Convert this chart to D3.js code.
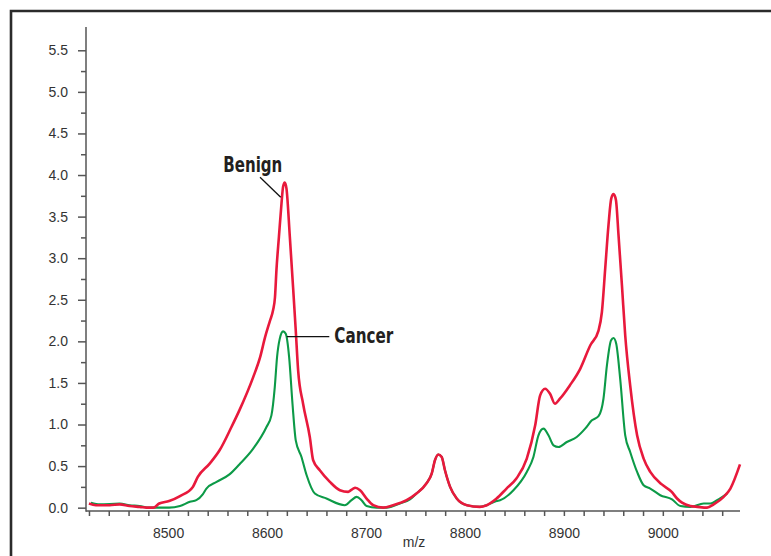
<!DOCTYPE html>
<html><head><meta charset="utf-8">
<script src="https://cdn.jsdelivr.net/npm/d3@7"></script>
<style>
html,body{margin:0;padding:0;background:#fff;}
svg{display:block;}
</style></head>
<body>
<svg id="chart" width="771" height="556"></svg>
<script>
// m/z positions and intensities
const benignMz = [8420,8427,8441,8451,8461,8471,8481,8485,8491,8501,8512,8525,8530,8542,8552,8564,8572,8586,8593,8598,8603,8606,8608,8609.5,8612,8614.6,8616.2,8617.9,8619.6,8623,8626.3,8629,8631.4,8636.4,8643.2,8646.6,8653.3,8663.5,8673.6,8682,8687,8689,8694,8700.6,8707.3,8717.4,8727.5,8741,8751,8761,8766.4,8769.7,8773,8776.5,8779.8,8785,8791.7,8802,8815,8822,8832,8842,8852,8862.5,8871,8876,8881,8886,8891,8896,8906,8916.5,8926.6,8935,8938.4,8941.8,8945.1,8947.9,8950.2,8952.6,8955.2,8958.7,8962,8967,8974,8980.6,8987.3,8999,9009,9014.4,9019.4,9027.8,9035,9044.7,9051.4,9061.5,9068.3,9078];
const benignVal = [0.05,0.03,0.03,0.04,0.02,0.01,0.0,0.0,0.05,0.08,0.14,0.25,0.37,0.53,0.69,0.97,1.17,1.57,1.81,2.05,2.25,2.37,2.53,2.86,3.26,3.66,3.86,3.91,3.84,3.26,2.65,2.13,1.65,1.25,0.85,0.57,0.45,0.31,0.21,0.19,0.23,0.24,0.21,0.11,0.03,0.0,0.03,0.09,0.17,0.29,0.41,0.57,0.64,0.61,0.45,0.25,0.11,0.03,0.01,0.03,0.11,0.23,0.35,0.59,0.99,1.35,1.43,1.37,1.25,1.31,1.47,1.67,1.95,2.13,2.35,2.88,3.40,3.72,3.77,3.70,3.28,2.67,2.07,1.47,0.87,0.59,0.43,0.28,0.19,0.11,0.06,0.02,0.01,0.0,0.04,0.13,0.23,0.52];

const cancerMz = [8422,8431,8451,8461,8471,8481,8491,8501,8512,8522,8528.5,8535,8538.7,8549,8562,8572,8586,8599.4,8604.4,8607.8,8610.1,8612.8,8616.2,8618.9,8622.3,8625.7,8629,8634.8,8640,8648.3,8660,8678.6,8685.4,8690.5,8695.5,8700.6,8710.7,8720.8,8734.3,8744.4,8751,8761,8766.4,8769.7,8773,8776.5,8779.8,8785,8791.7,8802,8815,8822,8832,8835.5,8849,8862.5,8869.2,8874.3,8879.4,8884.4,8889.5,8894.6,8903,8913,8921.5,8928.3,8935,8940,8943.5,8947.6,8950.2,8952.9,8956.9,8962,8967,8974,8980.6,8987.3,8997.4,9009.3,9017.7,9027.8,9041.3,9048,9054.8,9065];
const cancerVal = [0.06,0.04,0.05,0.03,0.02,0.0,0.0,0.0,0.02,0.07,0.09,0.16,0.23,0.31,0.40,0.52,0.71,0.97,1.11,1.45,1.81,2.03,2.12,2.09,1.81,1.25,0.81,0.61,0.39,0.17,0.11,0.03,0.09,0.13,0.09,0.02,0.0,0.0,0.05,0.10,0.17,0.29,0.41,0.57,0.64,0.61,0.45,0.25,0.11,0.03,0.01,0.03,0.08,0.09,0.21,0.43,0.61,0.87,0.95,0.87,0.75,0.73,0.79,0.85,0.95,1.05,1.10,1.31,1.71,2.01,2.04,1.97,1.55,0.87,0.67,0.43,0.27,0.23,0.15,0.10,0.02,0.01,0.05,0.05,0.09,0.17];

const yMajorTicks = [0,0.5,1.0,1.5,2.0,2.5,3.0,3.5,4.0,4.5,5.0,5.5];
const yMinorTicks = [0.25,0.75,1.25,1.75,2.25,2.75,3.25,3.75,4.25,4.75,5.25];
const xTicks = d3.range(8420, 9061, 20);
const xLabelTicks = [8500,8600,8700,8800,8900,9000];
const xAxisTitle = "m/z";

const annLabels = ["Benign","Cancer"];
const annTextPos = [[8555.8,4.033],[8668,1.984]];
const annLineFrom = [[8592.9,3.973],[8619.9,2.056]];
const annLineTo = [[8613.8,3.732],[8662.9,2.056]];

const svg = d3.select("#chart");
const x = d3.scaleLinear().domain([8417, 9078]).range([86, 740]);
const y = d3.scaleLinear().domain([-0.04, 5.78]).range([511, 27]);

// frame
svg.append("path").attr("d","M11,560V11H775").attr("fill","none")
  .attr("stroke","#2b2b2b").attr("stroke-width",2.6);

const font = "'Liberation Sans', Arial, Helvetica, sans-serif";
const axisColor = "#555";

// y axis
const yAx = svg.append("g").attr("transform","translate(86,0)")
  .call(d3.axisLeft(y).tickValues(yMajorTicks).tickSize(8).tickPadding(10).tickFormat(d3.format(".1f")));
const yMin = svg.append("g").attr("transform","translate(86,0)")
  .call(d3.axisLeft(y).tickValues(yMinorTicks).tickSize(5).tickFormat(""));
yMin.select(".domain").remove();

// x axis
const xAx = svg.append("g").attr("transform","translate(0,511)")
  .call(d3.axisBottom(x).tickValues(xTicks).tickSize(5).tickPadding(12)
    .tickFormat(d => xLabelTicks.includes(d) ? String(d) : ""));

[yAx,yMin,xAx].forEach(g=>{
  g.select(".domain").attr("stroke",axisColor).attr("stroke-width",1.5);
  g.selectAll(".tick line").attr("stroke",axisColor).attr("stroke-width",1.5);
  g.selectAll("text").attr("fill","#333").style("font-family",font).style("font-size","14px");
});
// make domains meet
yAx.select(".domain").attr("d","M0,27V511.75");
xAx.select(".domain").attr("d","M86,0H740");

svg.append("text").attr("x",414).attr("y",547).attr("text-anchor","middle")
  .attr("fill","#333").style("font-family",font).style("font-size","14px").text(xAxisTitle);

// lines
const line = d3.line().x(d=>x(d[0])).y(d=>y(d[1])).curve(d3.curveMonotoneX);
const cancer = cancerMz.map((m,i)=>[m,cancerVal[i]]);
const benign = benignMz.map((m,i)=>[m,benignVal[i]]);
svg.append("path").datum(cancer).attr("d",line).attr("fill","none")
  .attr("stroke","#0c9a47").attr("stroke-width",2.1).attr("stroke-linejoin","round");
svg.append("path").datum(benign).attr("d",line).attr("fill","none")
  .attr("stroke","#e8193c").attr("stroke-width",2.6).attr("stroke-linejoin","round");

// annotations
annLabels.forEach((t,i)=>{
  svg.append("line").attr("x1",x(annLineFrom[i][0])).attr("y1",y(annLineFrom[i][1]))
    .attr("x2",x(annLineTo[i][0])).attr("y2",y(annLineTo[i][1]))
    .attr("stroke","#111").attr("stroke-width",1.3);
  svg.append("text").attr("x",x(annTextPos[i][0])).attr("y",y(annTextPos[i][1]))
    .attr("fill","#231f20").attr("font-weight","bold")
    .attr("textLength",59).attr("lengthAdjust","spacingAndGlyphs")
    .style("font-family","'Liberation Sans Narrow','DejaVu Sans Condensed','Roboto Condensed',Arial,sans-serif")
    .style("font-size","21px").text(t);
});
</script>
</body></html>
